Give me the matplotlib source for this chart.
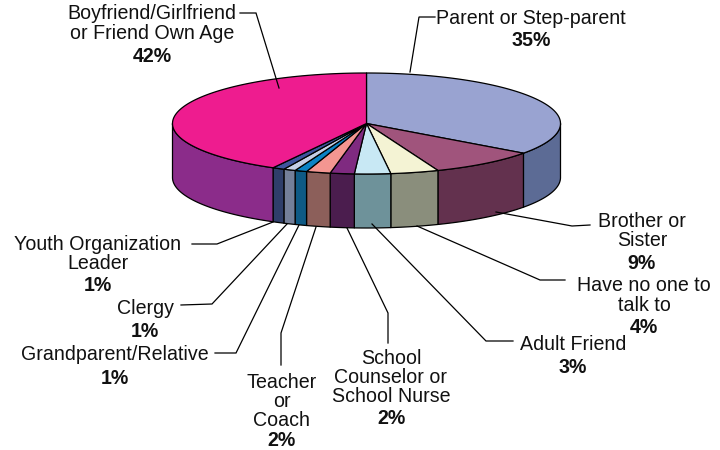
#!/usr/bin/env python3
"""3-D looking pie: who teens talk to. Drawn by hand from the shares, matplotlib has no real 3-D pie."""
import numpy as np
import matplotlib as mpl; mpl.use("Agg"); import matplotlib.pyplot as plt
from matplotlib.patches import Polygon

mpl.rcParams.update({"font.family":["Liberation Sans","DejaVu Sans"],"font.size":14})

labels=["Parent or Step-parent","Brother or\nSister","Have no one to\ntalk to","Adult Friend",
        "School\nCounselor or\nSchool Nurse","Teacher\nor\nCoach","Grandparent/Relative","Clergy",
        "Youth Organization\nLeader","Boyfriend/Girlfriend\nor Friend Own Age"]
values=[35,9,4,3,2,2,1,1,1,42]

top_col=["#99A3D1","#A0547C","#F4F3D4","#C8E8F4","#7F2A80","#F39691","#0A82C4","#C5CFE6","#3F549E","#EE1C8F"]
side_col=["#5C6B95","#63314E","#8A8E7C","#6E929A","#4B1D4E","#8C5F5A","#0F5A85","#747F99","#2F3E6A","#8B2C8A"]

# layout in pixels of the 720x450 canvas
CX,CY,RX,RY,DEPTH=366.5,123.5,194,50.5,54
# text centre x, y of the name block centre, y of the percent
text_pos=[(531,18.5,41),(642,231,263.5),(644,295.5,327.5),(573,344.5,367.5),(391,377.5,418.5),
          (282,401.5,440),(115,354.5,378.5),(145,308.5,331.5),(98,254,285.5),(152,23.5,56.5)]
leaders=[[(435,17),(419,17),(410,72)],[(590,225),(572,226),(496,212)],[(565,280),(540,280),(417,226)],
         [(513,341),(486,341),(372,224)],[(388,343),(388,313),(347,228)],[(281,365),(281,333),(316,227)],
         [(215,353),(236,353),(299,225)],[(181,305),(212,304),(287,224)],[(192,244),(217,244),(273,222)],
         [(240,13),(256,13),(279,88)]]

def rim(a0,a1,dy=0):
    # angles clockwise from 12 o'clock
    t=np.radians(np.linspace(a0,a1,max(int(abs(a1-a0)*2),2)))
    return np.column_stack([CX+RX*np.sin(t),CY-RY*np.cos(t)+dy])

fig=plt.figure(figsize=(7.2,4.5),dpi=100)
ax=fig.add_axes([0,0,1,1]); ax.set_xlim(0,720); ax.set_ylim(450,0); ax.axis("off")

edges=np.concatenate([[0],np.cumsum(values)])*3.6
# sides first (only the front half shows)
for i in range(len(values)):
    a0,a1=max(edges[i],90),min(edges[i+1],270)
    if a1<=a0: continue
    pts=np.vstack([rim(a0,a1),rim(a0,a1,DEPTH)[::-1]])
    ax.add_patch(Polygon(pts,closed=True,fc=side_col[i],ec="black",lw=0.9,joinstyle="round",zorder=2))
for i in range(len(values)):
    pts=np.vstack([[CX,CY],rim(edges[i],edges[i+1])])
    ax.add_patch(Polygon(pts,closed=True,fc=top_col[i],ec="black",lw=0.9,joinstyle="round",zorder=3))

for name,v,(tx,ty,py),ln in zip(labels,values,text_pos,leaders):
    ax.text(tx,ty,name,ha="center",va="center",fontsize=14.15,linespacing=1.03,color="#111111",zorder=5)
    ax.text(tx,py,f"{v}%",ha="center",va="center",fontsize=14.15,fontweight="bold",color="#111111",zorder=5)
    xs,ys=zip(*ln)
    ax.plot(xs,ys,color="black",lw=0.9,solid_joinstyle="miter",zorder=4)

fig.savefig("out.png",dpi=100)
